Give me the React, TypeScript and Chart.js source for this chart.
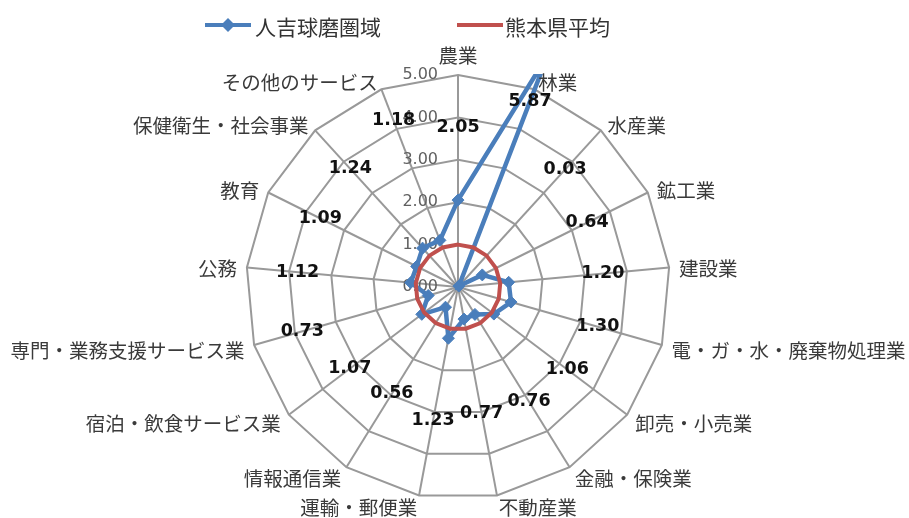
import { useEffect, useRef } from 'react';
import { Chart, registerables } from 'chart.js';

Chart.register(...registerables);

const categories = [
  '農業', '林業', '水産業', '鉱工業', '建設業', '電・ガ・水・廃棄物処理業',
  '卸売・小売業', '金融・保険業', '不動産業', '運輸・郵便業', '情報通信業',
  '宿泊・飲食サービス業', '専門・業務支援サービス業', '公務', '教育',
  '保健衛生・社会事業', 'その他のサービス',
];
const hitoyoshiKuma = [2.05, 5.87, 0.03, 0.64, 1.20, 1.30, 1.06, 0.76, 0.77, 1.23, 0.56, 1.07, 0.73, 1.12, 1.09, 1.24, 1.18];
const kumamotoAvg = [1, 1, 1, 1, 1, 1, 1, 1, 1, 1, 1, 1, 1, 1, 1, 1, 1];
const seriesNames = ['人吉球磨圏域', '熊本県平均'];
const tickValues = [0, 1, 2, 3, 4, 5];
// where each value label sits along its spoke (value units)
const valueLabelRadius = [3.77, 4.7, 3.75, 3.4, 3.43, 3.43, 3.23, 3.18, 3.04, 3.2, 2.96, 3.2, 3.82, 3.8, 3.63, 3.77, 4.2];

const BLUE = '#4a7ebb';
const RED = '#c0504d';
const JP = '"Noto Sans CJK JP", "Noto Sans", sans-serif';

const overlay = {
  id: 'overlay',
  beforeDatasetsDraw(chart: any) {
    const ctx = chart.ctx;
    const s = chart.scales.r;
    ctx.save();
    ctx.font = '16px "DejaVu Sans", sans-serif';
    ctx.fillStyle = '#606060';
    ctx.textAlign = 'right';
    ctx.textBaseline = 'middle';
    tickValues.forEach((v) => {
      const y = s.yCenter - s.getDistanceFromCenterForValue(v);
      ctx.fillText(v.toFixed(2), s.xCenter - 20, y);
    });
    ctx.restore();
  },
  afterDatasetsDraw(chart: any) {
    const ctx = chart.ctx;
    const s = chart.scales.r;
    ctx.save();
    // category labels
    ctx.font = '19.5px ' + JP;
    ctx.fillStyle = '#3a3a3a';
    ctx.textBaseline = 'middle';
    categories.forEach((c, i) => {
      const p = s.getPointPosition(i, s.drawingArea + 10);
      const a = s.getIndexAngle(i);
      const sn = Math.sin(a);
      if (Math.abs(sn) < 0.01) {
        ctx.textAlign = 'center';
        ctx.fillText(c, p.x, p.y - 9);
      } else {
        ctx.textAlign = sn > 0 ? 'left' : 'right';
        ctx.fillText(c, p.x, p.y + 2.5);
      }
    });
    // value labels
    ctx.font = 'bold 17.5px "DejaVu Sans", sans-serif';
    ctx.fillStyle = '#111';
    ctx.textAlign = 'center';
    hitoyoshiKuma.forEach((v, i) => {
      const p = s.getPointPositionForValue(i, valueLabelRadius[i]);
      ctx.fillText(v.toFixed(2), p.x, p.y);
    });
    // legend
    ctx.font = '21px ' + JP;
    ctx.textAlign = 'left';
    ctx.lineWidth = 4;
    ctx.strokeStyle = BLUE;
    ctx.beginPath();
    ctx.moveTo(205, 25);
    ctx.lineTo(251, 25);
    ctx.stroke();
    ctx.fillStyle = BLUE;
    ctx.beginPath();
    ctx.moveTo(228, 18);
    ctx.lineTo(235, 25);
    ctx.lineTo(228, 32);
    ctx.lineTo(221, 25);
    ctx.closePath();
    ctx.fill();
    ctx.fillStyle = '#333';
    ctx.fillText(seriesNames[0], 255, 27);
    ctx.strokeStyle = RED;
    ctx.beginPath();
    ctx.moveTo(457, 25);
    ctx.lineTo(503, 25);
    ctx.stroke();
    ctx.fillText(seriesNames[1], 505, 27);
    ctx.restore();
  },
};

export default function App() {
  const ref = useRef<HTMLCanvasElement>(null);
  useEffect(() => {
    if (!ref.current) return;
    const chart = new Chart(ref.current, {
      type: 'radar',
      data: {
        labels: categories,
        datasets: [
          {
            label: seriesNames[0],
            data: hitoyoshiKuma,
            borderColor: BLUE,
            backgroundColor: BLUE,
            borderWidth: 4.5,
            fill: false,
            pointStyle: 'rectRot',
            pointRadius: 6,
            pointBorderWidth: 1,
            pointBackgroundColor: BLUE,
            pointBorderColor: BLUE,
            order: 1,
            clip: { top: 1, left: false, right: false, bottom: false } as any,
          },
          {
            label: seriesNames[1],
            data: kumamotoAvg,
            borderColor: RED,
            backgroundColor: RED,
            borderWidth: 4,
            fill: false,
            pointRadius: 0,
            order: 0,
          },
        ],
      },
      options: {
        animation: false,
        responsive: true,
        maintainAspectRatio: false,
        layout: { padding: { top: 75, bottom: 19, left: 7, right: 0 } },
        plugins: { legend: { display: false }, tooltip: { enabled: false } },
        elements: { line: { tension: 0 } },
        scales: {
          r: {
            min: 0,
            max: 5,
            ticks: { display: false, stepSize: 1 },
            pointLabels: { display: false },
            grid: { color: '#999999', lineWidth: 2 },
            angleLines: { color: '#999999', lineWidth: 2 },
          },
        },
      },
      plugins: [overlay],
    });
    return () => chart.destroy();
  }, []);
  return (
    <div style={{ position: 'fixed', left: 0, top: 0, width: 909, height: 518, background: '#fff' }}>
      <canvas ref={ref} style={{ display: 'block' }} />
    </div>
  );
}
